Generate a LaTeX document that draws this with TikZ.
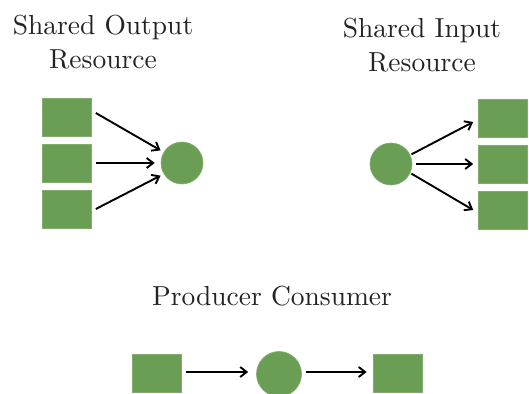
\documentclass[tikz,border=0pt]{standalone}
\usepackage{fontspec}
\setmainfont{lmroman10-regular}[Extension=.otf]
\usetikzlibrary{arrows.meta}
\definecolor{leaf}{RGB}{106,158,84}
\definecolor{ink}{RGB}{35,35,35}
\tikzset{
  box/.style={fill=leaf, draw=leaf!85!white, line width=0.6pt, minimum width=49pt, minimum height=38pt, inner sep=0pt},
  dot/.style={circle, fill=leaf, draw=leaf!85!white, line width=0.6pt, minimum size=42pt, inner sep=0pt},
  flow/.style={-{Straight Barb[length=6.5pt,width=10pt,line width=1.9pt]}, line width=1.9pt, black},
  title/.style={text=ink, font=\fontsize{27.5}{34}\selectfont, align=center, inner sep=0pt}
}
\begin{document}
\begin{tikzpicture}[x=1pt,y=-1pt]
\useasboundingbox (0,0) rectangle (529,393);
\clip (0,0) rectangle (529,393);

% many writers, one resource
\node[title] (tout) at (103,42) {Shared Output\\Resource};
\node[box] (o1) at (67,117) {};
\node[box] (o2) at (67,163) {};
\node[box] (o3) at (67,209) {};
\node[dot] (oc) at (182,163) {};
\draw[flow] (o1.east) ++(4,-4) coordinate (o1s) -- ([shift={(-3,-2)}]oc.150);
\draw[flow] ([xshift=4pt]o2.east) -- ([xshift=-6pt]oc.west);
\draw[flow] (o3.east) ++(4,0) coordinate (o3s) -- ([shift={(-3,2)}]oc.210);

% one resource, many readers
\node[title] (tin) at (422,45) {Shared Input\\Resource};
\node[dot] (ic) at (391,164) {};
\node[box] (i1) at (503,118) {};
\node[box] (i2) at (503,164) {};
\node[box] (i3) at (503,210) {};
\draw[flow] ([shift={(2,1)}]ic.30) -- ([xshift=-5pt,yshift=-4pt]i1.west);
\draw[flow] ([xshift=4pt]ic.east) -- ([xshift=-5pt]i2.west);
\draw[flow] ([shift={(2,-1)}]ic.-30) -- ([xshift=-5pt]i3.west);

% pipeline
\node[title] (tpc) at (272,296) {Producer Consumer};
\node[box] (p) at (156.5,373) {};
\node[dot, minimum size=45pt] (m) at (279,374) {};
\node[box] (c) at (397.5,373) {};
\draw[flow] ([xshift=5pt]p.east |- 0,372) -- ([xshift=-8pt]m.west |- 0,372);
\draw[flow] ([xshift=4pt]m.east |- 0,372) -- ([xshift=-6pt]c.west |- 0,372);
\end{tikzpicture}
\end{document}
